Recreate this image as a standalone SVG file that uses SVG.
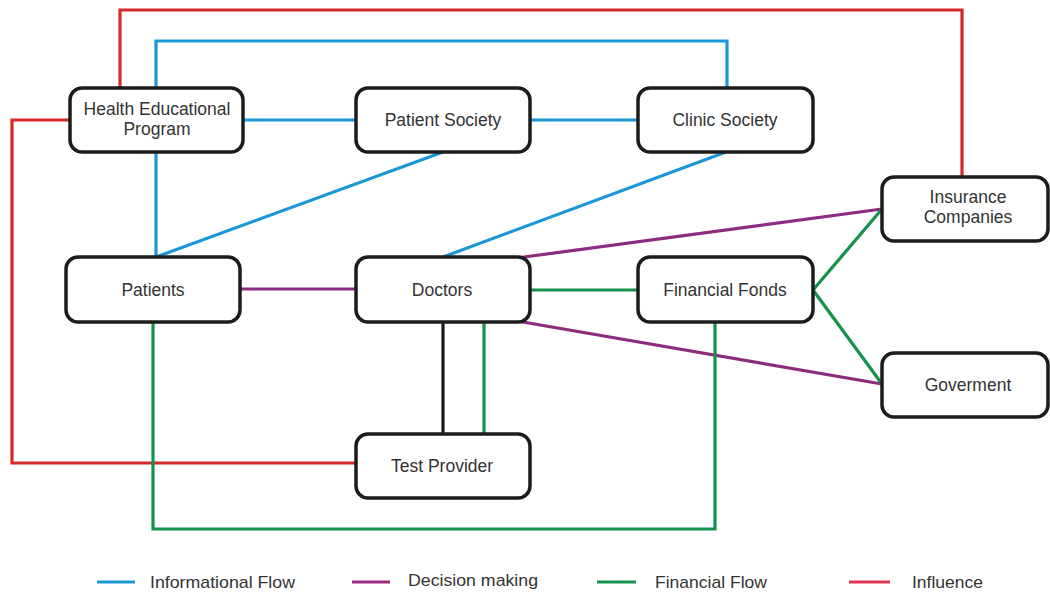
<svg xmlns="http://www.w3.org/2000/svg" width="1050" height="596" viewBox="0 0 1050 596">
  <style>
    .box { fill: #ffffff; stroke: #1c1c1c; stroke-width: 3.5; }
    .lbl { font-family: "Liberation Sans", Arial, sans-serif; font-size: 17.5px; fill: #333333; text-anchor: middle; }
    .leg { font-family: "Liberation Sans", Arial, sans-serif; font-size: 17px; fill: #333333; }
    .info { stroke: #1b97d5; }
    .dec { stroke: #8c2c80; }
    .fin { stroke: #12924a; }
    .inf { stroke: #d6282b; }
    .blk { stroke: #1c1c1c; }
    line, polyline { fill: none; stroke-width: 3.2; }
  </style>
  <rect width="1050" height="596" fill="#ffffff"/>

  <!-- connectors -->
  <g id="connectors">
    <!-- influence -->
    <polyline class="inf" points="120,88 120,10 962,10 962,177"/>
    <polyline class="inf" points="70,120 12,120 12,463 356,463"/>
    <!-- informational flow -->
    <polyline class="info" points="156,88 156,41 727,41 727,88"/>
    <line class="info" x1="243" y1="120" x2="356" y2="120"/>
    <line class="info" x1="530" y1="120" x2="638" y2="120"/>
    <line class="info" x1="156" y1="152" x2="156" y2="257"/>
    <line class="info" x1="443" y1="152" x2="156" y2="257"/>
    <line class="info" x1="726" y1="152" x2="443" y2="257"/>
    <!-- decision making -->
    <line class="dec" x1="240" y1="289" x2="356" y2="289"/>
    <line class="dec" x1="517" y1="258" x2="882" y2="209"/>
    <line class="dec" x1="517" y1="321" x2="882" y2="384"/>
    <!-- financial flow -->
    <line class="fin" x1="530" y1="290" x2="638" y2="290"/>
    <line class="fin" x1="813" y1="290" x2="882" y2="209"/>
    <line class="fin" x1="813" y1="290" x2="882" y2="384"/>
    <line class="fin" x1="484" y1="322" x2="484" y2="434"/>
    <polyline class="fin" points="153,322 153,529 715,529 715,322"/>
    <!-- doctors to test provider -->
    <line class="blk" x1="443" y1="322" x2="443" y2="434"/>
  </g>

  <!-- nodes -->
  <g id="health-educational-program">
    <rect class="box" x="70" y="88" width="173" height="64" rx="12"/>
    <text class="lbl" x="157" y="115">Health Educational</text>
    <text class="lbl" x="157" y="135">Program</text>
  </g>
  <g id="patient-society">
    <rect class="box" x="356" y="88" width="174" height="64" rx="12"/>
    <text class="lbl" x="443" y="126">Patient Society</text>
  </g>
  <g id="clinic-society">
    <rect class="box" x="638" y="88" width="175" height="64" rx="12"/>
    <text class="lbl" x="725" y="126">Clinic Society</text>
  </g>
  <g id="insurance-companies">
    <rect class="box" x="882" y="177" width="166" height="64" rx="12"/>
    <text class="lbl" x="968" y="203">Insurance</text>
    <text class="lbl" x="968" y="223">Companies</text>
  </g>
  <g id="patients">
    <rect class="box" x="66" y="257" width="174" height="65" rx="12"/>
    <text class="lbl" x="153" y="296">Patients</text>
  </g>
  <g id="doctors">
    <rect class="box" x="356" y="257" width="174" height="65" rx="12"/>
    <text class="lbl" x="442" y="296">Doctors</text>
  </g>
  <g id="financial-fonds">
    <rect class="box" x="638" y="257" width="175" height="65" rx="12"/>
    <text class="lbl" x="725" y="296">Financial Fonds</text>
  </g>
  <g id="goverment">
    <rect class="box" x="882" y="353" width="166" height="64" rx="12"/>
    <text class="lbl" x="968" y="391">Goverment</text>
  </g>
  <g id="test-provider">
    <rect class="box" x="356" y="434" width="174" height="64" rx="12"/>
    <text class="lbl" x="442" y="472">Test Provider</text>
  </g>

  <!-- legend -->
  <g id="legend">
    <line class="info" x1="97" y1="582" x2="135" y2="582" stroke-width="3.5"/>
    <text class="leg" x="150" y="588" textLength="145" lengthAdjust="spacingAndGlyphs">Informational Flow</text>
    <line stroke="#9c2a7e" x1="352" y1="582" x2="390" y2="582" stroke-width="3.5"/>
    <text class="leg" x="408" y="586" textLength="130" lengthAdjust="spacingAndGlyphs">Decision making</text>
    <line class="fin" x1="597" y1="582" x2="636" y2="582" stroke-width="3.5"/>
    <text class="leg" x="655" y="588" textLength="112" lengthAdjust="spacingAndGlyphs">Financial Flow</text>
    <line stroke="#e0334f" x1="849" y1="582" x2="890" y2="582" stroke-width="3.5"/>
    <text class="leg" x="912" y="588" textLength="71" lengthAdjust="spacingAndGlyphs">Influence</text>
  </g>
</svg>
